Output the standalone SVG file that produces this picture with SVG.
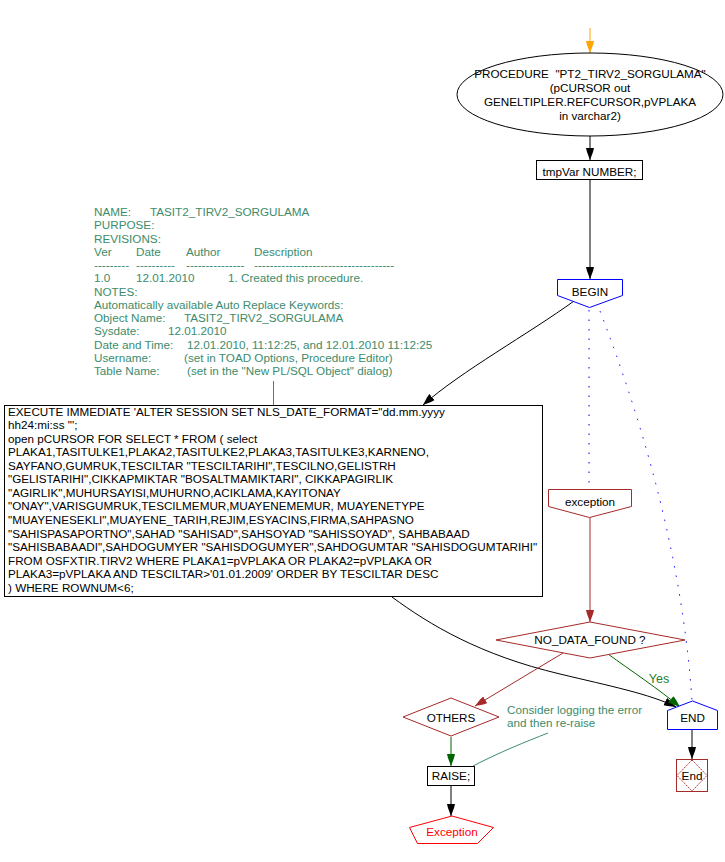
<svg xmlns="http://www.w3.org/2000/svg" width="725" height="862" viewBox="0 0 725 862">
<style>
text{font-family:"Liberation Sans",Arial,sans-serif;font-size:11.7px;fill:#000}
.c{text-anchor:middle}
.cm{fill:#3C8C6C}
.box{fill:#fff;stroke:#000;stroke-width:1}
.ln{fill:none;stroke-width:1}
</style>
<defs>
<marker id="ab" markerUnits="userSpaceOnUse" markerWidth="13" markerHeight="9" refX="12" refY="4.5" orient="auto"><path d="M0,0.5 L4,1.5 L12,4.5 L4,7.5 L0,8.5 z" fill="#000"/></marker>
<marker id="ao" markerUnits="userSpaceOnUse" markerWidth="13" markerHeight="9" refX="12" refY="4.5" orient="auto"><path d="M0,0.5 L4,1.5 L12,4.5 L4,7.5 L0,8.5 z" fill="#FFA500"/></marker>
<marker id="ar" markerUnits="userSpaceOnUse" markerWidth="13" markerHeight="9" refX="12" refY="4.5" orient="auto"><path d="M0,0.5 L4,1.5 L12,4.5 L4,7.5 L0,8.5 z" fill="#A52A2A"/></marker>
<marker id="ag" markerUnits="userSpaceOnUse" markerWidth="13" markerHeight="9" refX="12" refY="4.5" orient="auto"><path d="M0,0.5 L4,1.5 L12,4.5 L4,7.5 L0,8.5 z" fill="#006400"/></marker>
</defs>
<rect width="725" height="862" fill="#fff"/>

<g id="connectors">
<line x1="590" y1="28" x2="590" y2="53" stroke="#FFA500" class="ln" marker-end="url(#ao)"/>
<line x1="590" y1="136" x2="590" y2="160" stroke="#000" class="ln" marker-end="url(#ab)"/>
<line x1="590" y1="179" x2="590" y2="279" stroke="#000" class="ln" marker-end="url(#ab)"/>
<path d="M574,301 C530,333 460,372 423,405" stroke="#000" class="ln" marker-end="url(#ab)"/>
<line x1="589" y1="310" x2="589" y2="489" stroke="#0000FF" class="ln" stroke-dasharray="1.5,8"/>
<path d="M600,311 Q680,520 692,701" stroke="#0000FF" class="ln" stroke-dasharray="1.5,8"/>
<line x1="590" y1="517" x2="590" y2="622" stroke="#A52A2A" class="ln" marker-end="url(#ar)"/>
<path d="M392,597 C430,625 480,655 560,674 C610,686 650,694 676,707" stroke="#000" class="ln" marker-end="url(#ab)"/>
<line x1="563" y1="653" x2="475" y2="706" stroke="#A52A2A" class="ln" marker-end="url(#ar)"/>
<path d="M608,654 C630,670 660,690 680,707" stroke="#006400" class="ln" marker-end="url(#ag)"/>
<line x1="451" y1="737" x2="451" y2="766" stroke="#006400" class="ln" marker-end="url(#ag)"/>
<line x1="451" y1="785" x2="451" y2="816" stroke="#000" class="ln" marker-end="url(#ab)"/>
<line x1="692" y1="729" x2="692" y2="759" stroke="#000" class="ln" marker-end="url(#ab)"/>
<line x1="273.5" y1="381" x2="273.5" y2="405" stroke="#3C8C6C" class="ln"/>
<path d="M473,766 C500,752 525,742 548,733" stroke="#3C8C6C" class="ln"/>
<text x="659" y="683" class="c" style="fill:#2A802A;font-size:12.5px">Yes</text>
</g>

<g id="procedure">
<ellipse cx="590" cy="94.5" rx="133" ry="41.5" fill="#fff" stroke="#000"/>
<text class="c" x="590" y="78">PROCEDURE &#160;"PT2_TIRV2_SORGULAMA"</text>
<text class="c" x="590" y="92">(pCURSOR out</text>
<text class="c" x="590" y="106">GENELTIPLER.REFCURSOR,pVPLAKA</text>
<text class="c" x="590" y="120">in varchar2)</text>
</g>

<g id="tmpvar">
<rect x="536.5" y="160.5" width="106" height="19" class="box"/>
<text class="c" x="589.5" y="175.5">tmpVar NUMBER;</text>
</g>

<g id="begin">
<polygon points="557.5,279.5 622.5,279.5 622.5,295.5 589.5,307.5 557.5,295.5" fill="#fff" stroke="#0000FF"/>
<text class="c" x="590" y="296">BEGIN</text>
</g>

<g id="comment1">
<text class="cm" x="94" y="216">NAME:</text><text class="cm" x="150" y="216">TASIT2_TIRV2_SORGULAMA</text>
<text class="cm" x="94" y="229.3">PURPOSE:</text>
<text class="cm" x="94" y="242.5">REVISIONS:</text>
<text class="cm" x="94" y="255.8">Ver</text><text class="cm" x="136" y="255.8">Date</text><text class="cm" x="186" y="255.8">Author</text><text class="cm" x="254" y="255.8">Description</text>
<text class="cm" x="94" y="269">---------</text><text class="cm" x="136" y="269">----------</text><text class="cm" x="186" y="269">---------------</text><text class="cm" x="254" y="269">------------------------------------</text>
<text class="cm" x="94" y="282.3">1.0</text><text class="cm" x="136" y="282.3">12.01.2010</text><text class="cm" x="228" y="282.3">1. Created this procedure.</text>
<text class="cm" x="94" y="295.5">NOTES:</text>
<text class="cm" x="94" y="308.8">Automatically available Auto Replace Keywords:</text>
<text class="cm" x="94" y="322">Object Name:</text><text class="cm" x="184" y="322">TASIT2_TIRV2_SORGULAMA</text>
<text class="cm" x="94" y="335.3">Sysdate:</text><text class="cm" x="168" y="335.3">12.01.2010</text>
<text class="cm" x="94" y="348.5">Date and Time:</text><text class="cm" x="187" y="348.5">12.01.2010, 11:12:25, and 12.01.2010 11:12:25</text>
<text class="cm" x="94" y="361.8">Username:</text><text class="cm" x="184" y="361.8">(set in TOAD Options, Procedure Editor)</text>
<text class="cm" x="94" y="375">Table Name:</text><text class="cm" x="187" y="375">(set in the "New PL/SQL Object" dialog)</text>
</g>

<g id="execute">
<rect x="4.5" y="405.5" width="538" height="191" class="box"/>
<text x="8" y="415.5">EXECUTE IMMEDIATE 'ALTER SESSION SET NLS_DATE_FORMAT="dd.mm.yyyy</text>
<text x="8" y="429.1">hh24:mi:ss "';</text>
<text x="8" y="442.6">open pCURSOR FOR SELECT * FROM ( select</text>
<text x="8" y="456.2">PLAKA1,TASITULKE1,PLAKA2,TASITULKE2,PLAKA3,TASITULKE3,KARNENO,</text>
<text x="8" y="469.7">SAYFANO,GUMRUK,TESCILTAR "TESCILTARIHI",TESCILNO,GELISTRH</text>
<text x="8" y="483.3">"GELISTARIHI",CIKKAPMIKTAR "BOSALTMAMIKTARI", CIKKAPAGIRLIK</text>
<text x="8" y="496.9">"AGIRLIK",MUHURSAYISI,MUHURNO,ACIKLAMA,KAYITONAY</text>
<text x="8" y="510.4">"ONAY",VARISGUMRUK,TESCILMEMUR,MUAYENEMEMUR, MUAYENETYPE</text>
<text x="8" y="524">"MUAYENESEKLI",MUAYENE_TARIH,REJIM,ESYACINS,FIRMA,SAHPASNO</text>
<text x="8" y="537.5">"SAHISPASAPORTNO",SAHAD "SAHISAD",SAHSOYAD "SAHISSOYAD", SAHBABAAD</text>
<text x="8" y="551.1">"SAHISBABAADI",SAHDOGUMYER "SAHISDOGUMYER",SAHDOGUMTAR "SAHISDOGUMTARIHI"</text>
<text x="8" y="564.7">FROM OSFXTIR.TIRV2 WHERE PLAKA1=pVPLAKA OR PLAKA2=pVPLAKA OR</text>
<text x="8" y="578.2">PLAKA3=pVPLAKA AND TESCILTAR&gt;'01.01.2009' ORDER BY TESCILTAR DESC</text>
<text x="8" y="591.8">) WHERE ROWNUM&lt;6;</text>
</g>

<g id="exception-block">
<polygon points="548.5,489.5 631.5,489.5 631.5,506.5 589.5,517.5 548.5,506.5" fill="#fff" stroke="#A52A2A"/>
<text class="c" x="590" y="506">exception</text>
</g>

<g id="nodatafound">
<polygon points="590,622 685,640 590,658 496,640" fill="#fff" stroke="#A52A2A"/>
<text class="c" x="590" y="644">NO_DATA_FOUND ?</text>
</g>

<g id="others">
<polygon points="451,698 499,717 451,736 403,717" fill="#fff" stroke="#A52A2A"/>
<text class="c" x="451" y="721.5">OTHERS</text>
</g>

<g id="comment2">
<text class="cm" x="507" y="714">Consider logging the error</text>
<text class="cm" x="507" y="727.3">and then re-raise</text>
</g>

<g id="end">
<polygon points="667.5,710.5 692.5,701 717.5,710.5 717.5,729.5 667.5,729.5" fill="#fff" stroke="#0000FF"/>
<text class="c" x="692.5" y="721.5">END</text>
</g>

<g id="raise">
<rect x="427.5" y="766.5" width="47" height="19" class="box"/>
<text class="c" x="451" y="780">RAISE;</text>
</g>

<g id="exception-end">
<polygon points="409.5,827.5 452,816 493.5,827.5 477.5,843.5 417.5,843.5" fill="#fff" stroke="#FF0000"/>
<text class="c" x="452" y="836" style="fill:#FF0000">Exception</text>
</g>

<g id="end-terminal">
<rect x="676.5" y="759.5" width="31" height="32" fill="#fff" stroke="#A52A2A"/>
<polygon points="692,760 707,775.5 692,791 677,775.5" fill="none" stroke="#A52A2A" stroke-dasharray="1.5,1"/>
<text class="c" x="692" y="780">End</text>
</g>
</svg>
